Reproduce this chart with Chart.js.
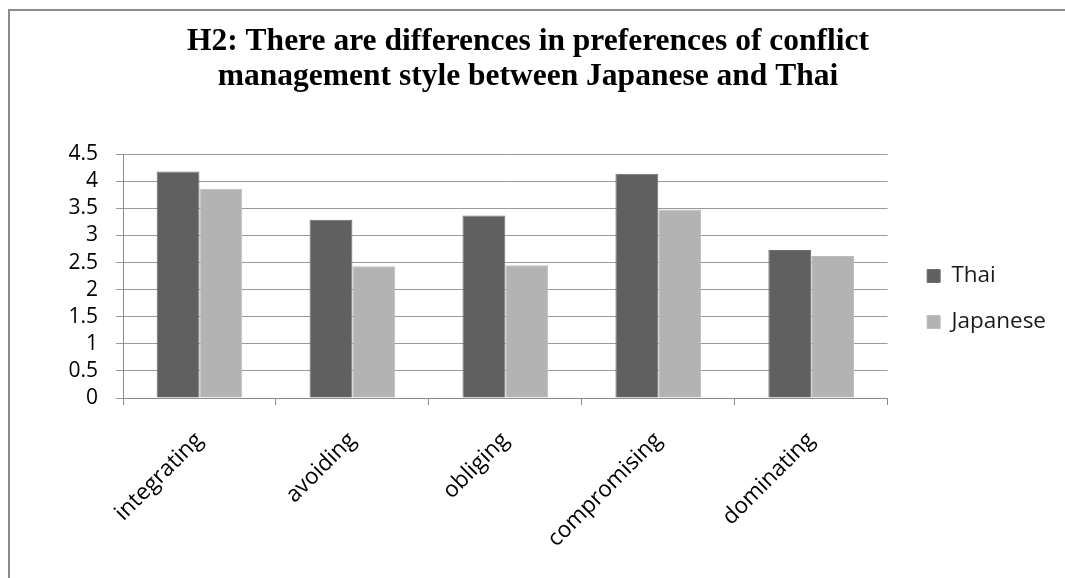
<!DOCTYPE html>
<html><head><meta charset="utf-8">
<script src="https://cdn.jsdelivr.net/npm/chart.js@4"></script>
<style>
html,body{margin:0;padding:0;background:#fff;overflow:hidden}
#wrap{position:relative;width:1065px;height:578px}
#frame{position:absolute;left:8px;top:9px;width:1100px;height:600px;border-left:2px solid #8c8c8c;border-top:2px solid #8c8c8c;pointer-events:none}
canvas{position:absolute;left:0;top:0}
</style></head><body>
<div id="wrap"><canvas id="c" width="1065" height="578"></canvas><div id="frame"></div></div>
<script>
const categories = ['integrating', 'avoiding', 'obliging', 'compromising', 'dominating'];
const seriesNames = ['Thai', 'Japanese'];
const thaiValues = [4.18, 3.29, 3.37, 4.14, 2.73];
const japaneseValues = [3.86, 2.43, 2.45, 3.48, 2.62];
const yTickValues = [0, 0.5, 1, 1.5, 2, 2.5, 3, 3.5, 4, 4.5];
const titleLines = ['H2: There are differences in preferences of conflict', 'management style between Japanese and Thai'];

const sansFont = 'Open Sans';

new Chart(document.getElementById('c'), {
  type: 'bar',
  data: {
    labels: categories,
    datasets: [
      { label: seriesNames[0], data: thaiValues, backgroundColor: '#606060', borderColor: '#6e6e6e', borderWidth: 1 },
      { label: seriesNames[1], data: japaneseValues, backgroundColor: '#b3b3b3', borderColor: '#bdbdbd', borderWidth: 1 }
    ]
  },
  options: {
    responsive: false,
    animation: false,
    devicePixelRatio: 1,
    layout: { padding: { top: 20, bottom: 0, left: 0, right: 9 } },
    datasets: { bar: { categoryPercentage: 0.56, barPercentage: 1.0 } },
    plugins: {
      title: {
        display: true, text: titleLines, color: '#000',
        font: { family: 'Liberation Serif', size: 31.5, weight: 'bold', lineHeight: 1.1 },
        padding: { top: 4.4, bottom: 60.5 }
      },
      legend: {
        position: 'right', align: 'center',
        labels: { boxWidth: 13, boxHeight: 13, padding: 23.5, color: '#1a1a1a', font: { family: sansFont, size: 22.5 } }
      },
      tooltip: { enabled: false }
    },
    scales: {
      x: {
        grid: { drawOnChartArea: false, drawTicks: true, tickLength: 7, color: '#8c8c8c' },
        border: { color: '#8c8c8c' },
        ticks: { maxRotation: 45, minRotation: 45, padding: 22, color: '#000', font: { family: sansFont, size: 22.5 } },
        afterFit: s => { s.height = 180; }
      },
      y: {
        min: 0, max: 4.5,
        afterBuildTicks: s => { s.ticks = yTickValues.map(v => ({ value: v })); },
        grid: { color: '#9a9a9a', tickLength: 7 },
        border: { color: '#8c8c8c' },
        ticks: { autoSkip: false, padding: 18, color: '#000', font: { family: sansFont, size: 21 }, callback: v => String(v) },
        afterFit: s => { s.width = 123; }
      },
      gap: {
        type: 'linear', position: 'right', display: true,
        grid: { display: false }, ticks: { display: false }, border: { display: false },
        afterFit: s => { s.width = 16; }
      }
    }
  }
});
</script>
</body></html>
